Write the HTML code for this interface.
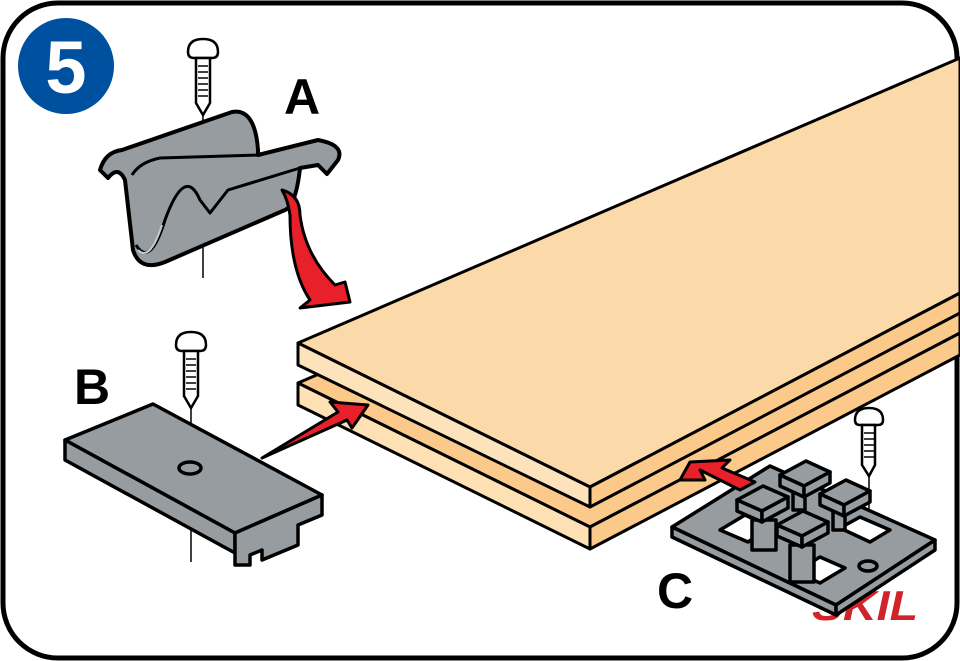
<!DOCTYPE html>
<html><head><style>html,body{margin:0;padding:0;background:#fff}svg{display:block}</style></head><body>
<svg width="960" height="661" viewBox="0 0 960 661" xmlns="http://www.w3.org/2000/svg" font-family="Liberation Sans, sans-serif">
<rect x="3" y="3" width="954" height="655" rx="55" fill="#fff" stroke="#000" stroke-width="5"/>
<g stroke="#000" stroke-width="3" stroke-linejoin="round">
<polygon points="298,383 960,97 960,333 590,527" fill="#fbc98a"/>
<polygon points="298,383 590,527 590,549 298,405" fill="#fde0b4"/>
<polygon points="590,527 960,333 960,355 590,549" fill="#fbc98a"/>
<polygon points="298,343 960,58 960,293 590,487" fill="#fcd9a8"/>
<polygon points="298,343 590,487 590,507 298,365" fill="#fde3bb"/>
<polygon points="590,487 960,293 960,313 590,507" fill="#fbc98a"/>
</g>
<circle cx="66" cy="66" r="48" fill="#0050a0"/>
<text x="66" y="93" font-size="74" font-weight="bold" fill="#fff" text-anchor="middle">5</text>
<text x="302" y="114" font-size="50" font-weight="bold" text-anchor="middle">A</text>
<text x="92" y="404" font-size="50" font-weight="bold" text-anchor="middle">B</text>
<text x="675" y="608" font-size="50" font-weight="bold" text-anchor="middle">C</text>
<text x="812" y="620" font-size="42" font-weight="bold" font-style="italic" fill="#d2232a" textLength="106" lengthAdjust="spacingAndGlyphs">SKIL</text>
<g stroke="#000" stroke-width="2.5" fill="#fff">
<path d="M188,52 q0,-13 15,-13 q15,0 15,13 q0,6 -6,6 h-18 q-6,0 -6,-6z"/>
<path d="M196,58 h14 v45 l-7,12 l-7,-12z"/>
<path d="M176,345 q0,-13 15,-13 q15,0 15,13 q0,6 -6,6 h-18 q-6,0 -6,-6z"/>
<path d="M184,351 h14 v45 l-7,12 l-7,-12z"/>
<path d="M855,420 q0,-12 14,-12 q14,0 14,12 q0,5 -5,5 h-18 q-5,0 -5,-5z"/>
<path d="M862,425 h13 v40 l-6,11 l-7,-11z"/>
</g>
<g stroke="#000" stroke-width="1.5">
<line x1="198" y1="66" x2="208" y2="66"/><line x1="198" y1="72" x2="208" y2="72"/><line x1="198" y1="78" x2="208" y2="78"/><line x1="198" y1="84" x2="208" y2="84"/><line x1="198" y1="90" x2="208" y2="90"/><line x1="198" y1="96" x2="208" y2="96"/>
<line x1="186" y1="359" x2="196" y2="359"/><line x1="186" y1="365" x2="196" y2="365"/><line x1="186" y1="371" x2="196" y2="371"/><line x1="186" y1="377" x2="196" y2="377"/><line x1="186" y1="383" x2="196" y2="383"/><line x1="186" y1="389" x2="196" y2="389"/>
<line x1="864" y1="433" x2="874" y2="433"/><line x1="864" y1="439" x2="874" y2="439"/><line x1="864" y1="445" x2="874" y2="445"/><line x1="864" y1="451" x2="874" y2="451"/><line x1="864" y1="457" x2="874" y2="457"/>
<line x1="203" y1="115" x2="203" y2="278"/>
<line x1="191" y1="408" x2="191" y2="562"/>
<line x1="869" y1="476" x2="869" y2="565"/>
</g>
<!-- piece A -->
<g stroke="#000" stroke-width="4" stroke-linejoin="round" fill="#969ca0">
<path d="M122,150 L232,112 Q255,108 258,150 L258,155 L318,140 Q345,145 338,160 L327,174 L318,165 L300,168 Q296,205 285,210 L165,262 Q140,272 133,250 L125,180 Q118,165 108,178 L100,170 Q105,152 122,150z"/>
<path d="M132,175 Q140,162 160,158 L258,155" fill="none" stroke-width="3"/>
<path d="M136,245 Q150,268 165,220 Q185,165 200,200 L210,213 L228,190 L300,168" fill="none" stroke-width="3"/>
<path d="M138,250 Q150,262 162,225" fill="none" stroke="#c8ccce" stroke-width="2"/>
</g>
<path d="M282,190 Q300,195 300,215 Q305,255 335,285 L345,282 L350,302 L300,308 L310,300 Q290,270 290,215 Q288,200 282,190z" fill="#e8202a" stroke="#000" stroke-width="3" stroke-linejoin="round"/>
<!-- piece B -->
<g stroke="#000" stroke-width="3.5" stroke-linejoin="round" fill="#969ca0">
<polygon points="65,440 153,404 322,495 235,533"/>
<polygon points="65,440 235,533 235,553 65,460"/>
<polygon points="235,533 322,495 322,515 298,525 298,545 262,560 262,550 250,555 250,565 235,565 235,553"/>
<ellipse cx="190" cy="468" rx="11" ry="6"/>
</g>
<polygon points="262,458 338,412 330,402 368,405 352,428 347,420" fill="#e8202a" stroke="#000" stroke-width="3" stroke-linejoin="round"/>
<!-- piece C -->
<g stroke="#000" stroke-width="3.5" stroke-linejoin="round" fill="#969ca0">
<polygon points="672,527 770,466 935,540 836,605"/>
<polygon points="672,527 836,605 836,615 672,537"/>
<polygon points="836,605 935,540 935,550 836,615"/>
<g fill="#fff"><polygon points="720,530 745,515 770,527 748,542"/><polygon points="795,572 820,557 845,568 820,583"/><polygon points="840,528 860,517 890,530 870,542"/></g>
<!-- back block -->
<polygon points="793,510 793,485 805,485 805,510"/>
<polygon points="780,475 806,461 830,472 804,486"/><polygon points="780,475 804,486 804,497 780,486"/><polygon points="804,486 830,472 830,483 804,497"/>
<!-- right block -->
<polygon points="833,530 833,505 845,505 845,530"/>
<polygon points="820,494 846,480 870,491 844,505"/><polygon points="820,494 844,505 844,516 820,505"/><polygon points="844,505 870,491 870,502 844,516"/>
<!-- left block -->
<polygon points="752,550 752,520 776,520 776,550"/>
<polygon points="737,500 763,486 788,497 762,511"/><polygon points="737,500 762,511 762,522 737,511"/><polygon points="762,511 788,497 788,508 762,522"/>
<!-- front block -->
<polygon points="790,582 790,545 814,545 814,582"/>
<polygon points="777,525 803,511 828,522 802,536"/><polygon points="777,525 802,536 802,547 777,536"/><polygon points="802,536 828,522 828,533 802,547"/>
<ellipse cx="868" cy="566" rx="9" ry="5"/>
</g>
<polygon points="740,490 700,470 705,480 680,480 690,462 730,460 722,468 755,482" fill="#e8202a" stroke="#000" stroke-width="3" stroke-linejoin="round"/>
</svg>
</body></html>
